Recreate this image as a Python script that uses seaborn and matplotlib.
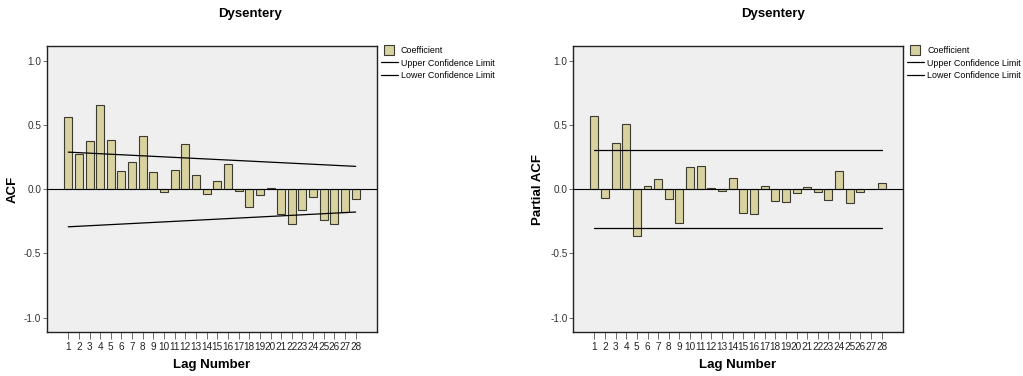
import matplotlib
matplotlib.use("Agg")
import matplotlib.pyplot as plt
import seaborn as sns
import pandas as pd
from matplotlib.lines import Line2D

sns.set_theme(style="white")
plt.rcParams["font.family"] = ["Liberation Sans", "DejaVu Sans"]
plt.rcParams["text.color"] = "black"
plt.rcParams["axes.labelcolor"] = "black"

# ---- data -------------------------------------------------------------
lags = list(range(1, 29))
acf = [0.567, 0.275, 0.373, 0.658, 0.383, 0.140, 0.215, 0.412, 0.137, -0.023,
       0.148, 0.355, 0.111, -0.039, 0.067, 0.200, -0.013, -0.140, -0.044, 0.010,
       -0.195, -0.270, -0.160, -0.063, -0.242, -0.273, -0.177, -0.078]
pacf = [0.570, -0.070, 0.362, 0.508, -0.367, 0.029, 0.078, -0.078, -0.266, 0.172,
        0.185, 0.013, -0.013, 0.089, -0.188, -0.190, 0.023, -0.089, -0.100, -0.031,
        0.021, -0.021, -0.086, 0.143, -0.109, -0.023, 0.003, 0.049]
limit_lags = [1, 28]
acf_upper = [0.290, 0.179]
acf_lower = [-0.292, -0.177]
pacf_upper = [0.305, 0.305]
pacf_lower = [-0.300, -0.300]
title = "Dysentery"
ylabels = ["ACF", "Partial ACF"]
ytick_vals = [-1.0, -0.5, 0.0, 0.5, 1.0]
legend_labels = ["Coefficient", "Upper Confidence Limit", "Lower Confidence Limit"]

bar_color = "#d8d1a0"
edge_color = "#3b3b30"
axes_bg = "#efefef"

fig = plt.figure(figsize=(10.23, 3.76), dpi=100)
fig.patch.set_facecolor("white")

panels = [
    (0.0459, acf, acf_upper, acf_lower, ylabels[0], 0.244),
    (0.5601, pacf, pacf_upper, pacf_lower, ylabels[1], 0.756),
]

for left, vals, upper, lower, ylab, title_x in panels:
    ax = fig.add_axes([left, 0.117, 0.3226, 0.7606])
    ax.set_facecolor(axes_bg)
    df = pd.DataFrame({"lag": lags, "value": vals})
    sns.barplot(data=df, x="lag", y="value", native_scale=True, width=0.75,
                color=bar_color, edgecolor=edge_color, linewidth=0.8,
                saturation=1, ax=ax)
    ax.axhline(0, color="black", lw=0.8, zorder=3)
    ax.plot(limit_lags, upper, color="black", lw=0.9, zorder=3)
    ax.plot(limit_lags, lower, color="black", lw=0.9, zorder=3)

    ax.set_xlim(-1.0, 30.0)
    ax.set_ylim(-1.112, 1.117)
    ax.set_xticks(lags)
    ax.set_xticklabels([str(l) for l in lags], fontsize=7.2, color="#222222")
    ax.set_yticks(ytick_vals)
    ax.set_yticklabels([f"{v:.1f}" for v in ytick_vals], fontsize=7.2,
                       color="#333333")
    ax.tick_params(axis="x", length=5, width=0.6, pad=2, color="#555555",
                   bottom=True, direction="out")
    ax.tick_params(axis="y", length=3, width=0.6, pad=1, color="#555555",
                   left=True, direction="out")
    for s in ax.spines.values():
        s.set_color("#222222")
        s.set_linewidth(1.0)
    ax.set_xlabel("Lag Number", fontsize=9.5, fontweight="bold", labelpad=5)
    ax.set_ylabel(ylab, fontsize=9.5, fontweight="bold", labelpad=4)

    handles = [
        Line2D([], [], marker="s", linestyle="none", markersize=7,
               markerfacecolor=bar_color, markeredgecolor=edge_color,
               markeredgewidth=0.8),
        Line2D([], [], color="black", lw=0.9),
        Line2D([], [], color="black", lw=0.9),
    ]
    ax.legend(handles, legend_labels,
              loc="upper left", bbox_to_anchor=(1.0, 1.012), frameon=False,
              fontsize=6.4, handlelength=2.0, handletextpad=0.3,
              labelspacing=0.38, borderaxespad=0.2, borderpad=0.2)

    fig.text(title_x, 0.962, title, ha="center", va="center",
             fontsize=9.5, fontweight="bold")

fig.savefig("out.png", dpi=100)
